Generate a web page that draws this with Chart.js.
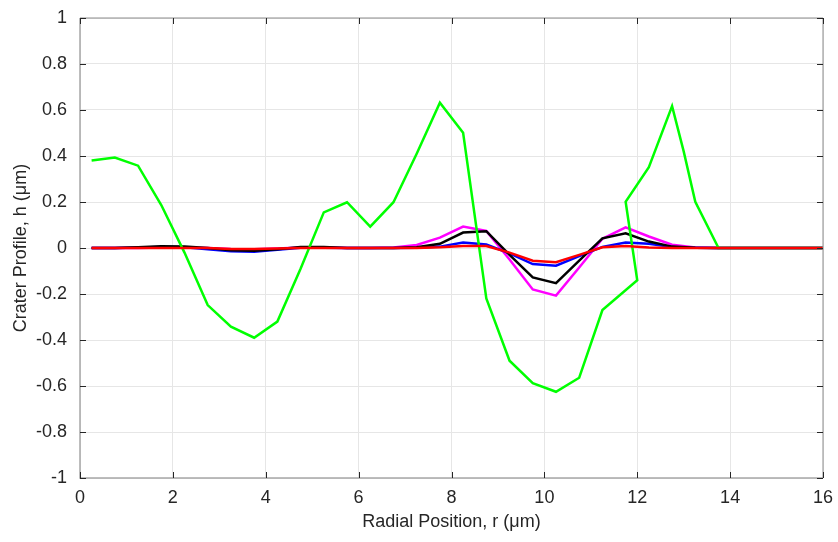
<!DOCTYPE html>
<html>
<head>
<meta charset="utf-8">
<script src="https://cdn.jsdelivr.net/npm/chart.js@4.4.1/dist/chart.umd.min.js"></script>
<style>
  html, body { margin: 0; padding: 0; background: #fff; }
  #wrap { width: 838px; height: 542px; }
</style>
</head>
<body>
<div id="wrap"><canvas id="crater"></canvas></div>
<script>
// radial positions (um) shared by the four small-amplitude profiles
const rGrid = [0.25, 0.75, 1.25, 1.75, 2.25, 2.75, 3.25, 3.75, 4.25, 4.75, 5.25, 5.75,
  6.25, 6.75, 7.25, 7.75, 8.25, 8.75, 9.25, 9.75, 10.25, 10.75, 11.25, 11.75,
  12.25, 12.75, 13.25, 13.75, 14.25, 14.75, 15.25, 15.75, 16.25];

const hMagenta = [0, 0, 0, 0.002, 0.002, 0, -0.004, -0.005, -0.002, 0.002, 0.002, 0,
  0, 0.002, 0.013, 0.045, 0.093, 0.074, -0.05, -0.18, -0.207, -0.085, 0.04, 0.09,
  0.05, 0.014, 0.002, 0, 0, 0, 0, 0, 0];
const hBlack = [0, 0, 0.003, 0.008, 0.007, 0, -0.01, -0.012, -0.005, 0.004, 0.004, 0,
  0, 0, 0.003, 0.018, 0.067, 0.073, -0.03, -0.128, -0.153, -0.055, 0.042, 0.064,
  0.028, 0.006, 0.001, 0, 0, 0, 0, 0, 0];
const hBlue = [0, 0, 0.002, 0.004, 0.003, -0.005, -0.014, -0.016, -0.008, 0.001, 0.001, 0,
  0, 0, 0.001, 0.006, 0.024, 0.015, -0.023, -0.07, -0.077, -0.035, 0.005, 0.024,
  0.018, 0.004, 0.001, 0, 0, 0, 0, 0, 0];
const hRed = [0, 0, 0, 0, 0, 0, -0.004, -0.004, -0.002, 0, 0, 0,
  0, 0, 0, 0.003, 0.009, 0.009, -0.02, -0.055, -0.062, -0.03, 0.003, 0.009,
  0.002, 0, 0, 0, 0, 0, 0, 0, 0];

// the green profile has its own (unsorted) positions
const rGreen = [0.25, 0.75, 1.25, 1.75, 2.25, 2.75, 3.25, 3.75, 4.25, 4.75, 5.25, 5.75,
  6.25, 6.75, 7.25, 7.75, 8.25, 8.75, 9.25, 9.75, 10.25, 10.75, 11.25, 12.0,
  11.75, 12.25, 12.75, 13.0, 13.25, 13.75, 14.25, 14.75, 15.25, 15.75, 16.25];
const hGreen = [0.38, 0.393, 0.358, 0.187, -0.02, -0.248, -0.342, -0.39, -0.32, -0.09, 0.155, 0.199,
  0.093, 0.199, 0.41, 0.632, 0.501, -0.219, -0.49, -0.588, -0.625, -0.564, -0.27, -0.14,
  0.201, 0.351, 0.617, 0.42, 0.201, 0, 0, 0, 0, 0, 0];

const xTicks = [0, 2, 4, 6, 8, 10, 12, 14, 16];
const yTicks = [-1, -0.8, -0.6, -0.4, -0.2, 0, 0.2, 0.4, 0.6, 0.8, 1];

function pts(xs, ys) {
  return xs.map((x, i) => ({ x: x, y: ys[i] }));
}

function line(data, color, order) {
  return {
    data: data, borderColor: color, backgroundColor: color,
    borderWidth: 2.5, pointRadius: 0, showLine: true, tension: 0, order: order
  };
}

// box around the axes with inward ticks, like the original figure
const boxPlugin = {
  id: 'box',
  afterDraw(chart) {
    const { ctx, chartArea: a, scales } = chart;
    ctx.save();
    ctx.strokeStyle = '#a8a8a8';
    ctx.lineWidth = 1.5;
    ctx.beginPath();
    ctx.moveTo(a.left, a.top); ctx.lineTo(a.left, a.bottom); ctx.lineTo(a.right, a.bottom);
    ctx.stroke();
    ctx.strokeStyle = '#8c8c8c';
    ctx.lineWidth = 1;
    ctx.beginPath();
    ctx.moveTo(a.left, a.top); ctx.lineTo(a.right, a.top); ctx.lineTo(a.right, a.bottom);
    ctx.stroke();
    ctx.strokeStyle = '#262626';
    ctx.beginPath();
    xTicks.forEach(v => {
      const px = Math.round(scales.x.getPixelForValue(v)) + 0.5;
      ctx.moveTo(px, a.bottom); ctx.lineTo(px, a.bottom - 6);
      ctx.moveTo(px, a.top); ctx.lineTo(px, a.top + 6);
    });
    yTicks.forEach(v => {
      const py = Math.round(scales.y.getPixelForValue(v)) + 0.5;
      ctx.moveTo(a.left, py); ctx.lineTo(a.left + 6, py);
      ctx.moveTo(a.right, py); ctx.lineTo(a.right - 6, py);
    });
    ctx.stroke();
    ctx.restore();
  }
};

const font = { family: '"Liberation Sans", Arial, Helvetica, sans-serif' };

new Chart(document.getElementById('crater'), {
  type: 'scatter',
  data: {
    datasets: [
      line(pts(rGreen, hGreen), '#00ff00', 2),
      line(pts(rGrid, hMagenta), '#ff00ff', 5),
      line(pts(rGrid, hBlue), '#0000ff', 4),
      line(pts(rGrid, hBlack), '#000000', 3),
      line(pts(rGrid, hRed), '#ff0000', 1)
    ]
  },
  options: {
    responsive: true,
    maintainAspectRatio: false,
    animation: false,
    layout: { padding: { top: 18, right: 15, left: 0, bottom: 0 } },
    plugins: { legend: { display: false }, tooltip: { enabled: false } },
    scales: {
      x: {
        type: 'linear', min: 0, max: 16,
        afterBuildTicks: s => { s.ticks = xTicks.map(v => ({ value: v })); },
        afterFit: s => { s.height = 64; s.paddingLeft = 0; s.paddingRight = 0; },
        grid: { color: '#e6e6e6', drawTicks: false },
        border: { display: false },
        ticks: { color: '#262626', padding: 9, font: { ...font, size: 18 }, maxRotation: 0 },
        title: {
          display: true, text: 'Radial Position, r (μm)', color: '#262626',
          font: { ...font, size: 18 }, padding: { top: 0, bottom: 9 }
        }
      },
      y: {
        type: 'linear', min: -1, max: 1,
        afterBuildTicks: s => { s.ticks = yTicks.map(v => ({ value: v })); },
        afterFit: s => { s.width = 80; s.paddingTop = 0; s.paddingBottom = 0; },
        grid: { color: '#e6e6e6', drawTicks: false },
        border: { display: false },
        ticks: {
          color: '#262626', padding: 13, font: { ...font, size: 18 },
          callback: v => String(Math.round(v * 10) / 10)
        },
        title: {
          display: true, text: 'Crater Profile, h (μm)', color: '#262626',
          font: { ...font, size: 18 }, padding: { top: 10, bottom: 0 }
        }
      }
    }
  },
  plugins: [boxPlugin]
});
</script>
</body>
</html>
